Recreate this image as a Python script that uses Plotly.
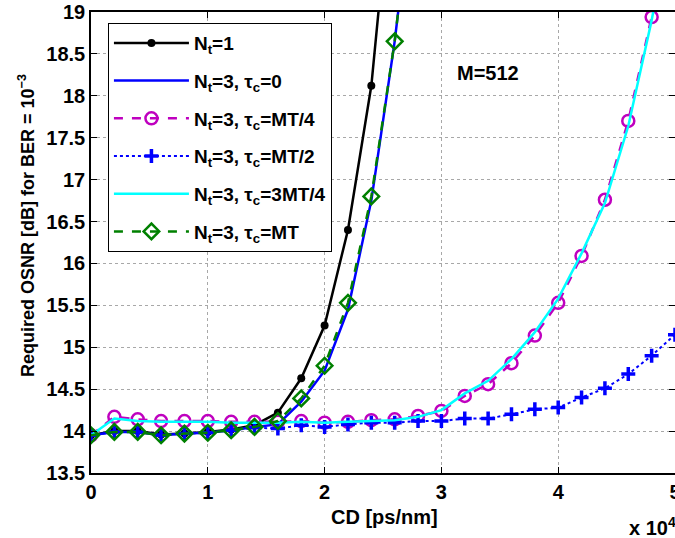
import plotly.graph_objects as go

cd = [0, 2000, 4000, 6000, 8000, 10000, 12000, 14000, 16000, 18000, 20000, 22000, 24000,
      26000, 28000, 30000, 32000, 34000, 36000, 38000, 40000, 42000, 44000, 46000, 48000, 50000]

cd_nt1 = cd[:14]
osnr_nt1 = [13.95, 14.0, 14.0, 13.96, 13.97, 13.99, 14.02, 14.07, 14.22, 14.63, 15.26, 16.4, 18.12, 21.0]

cd_tc0 = cd[:15]
osnr_tc0 = [13.95, 13.99, 13.99, 13.95, 13.97, 13.98, 14.01, 14.05, 14.08, 14.35, 14.72, 15.45, 16.75, 18.65, 21.0]

osnr_mt4 = [13.95, 14.17, 14.14, 14.12, 14.12, 14.12, 14.11, 14.11, 14.11, 14.12, 14.10, 14.11, 14.13,
            14.14, 14.18, 14.24, 14.42, 14.56, 14.81, 15.14, 15.53, 16.09, 16.76, 17.70, 18.94, 20.5]

osnr_mt2 = [13.95, 13.99, 13.99, 13.95, 13.97, 13.98, 14.01, 14.04, 14.03, 14.07, 14.05, 14.08, 14.10,
            14.10, 14.12, 14.12, 14.15, 14.15, 14.20, 14.26, 14.28, 14.40, 14.51, 14.68, 14.90, 15.15]

osnr_3mt4 = [13.95, 14.15, 14.12, 14.11, 14.11, 14.11, 14.10, 14.10, 14.10, 14.11, 14.10, 14.11, 14.12,
             14.13, 14.17, 14.25, 14.45, 14.60, 14.86, 15.18, 15.58, 16.12, 16.72, 17.64, 18.90, 20.4]

cd_mt = cd[:15]
osnr_mt = [13.95, 13.99, 13.99, 13.95, 13.97, 13.98, 14.01, 14.05, 14.12, 14.39, 14.78, 15.53, 16.80, 18.65, 21.0]

x_tickvals = [0, 10000, 20000, 30000, 40000, 50000]
x_ticktext = ["0", "1", "2", "3", "4", "5"]
y_tickvals = [13.5, 14, 14.5, 15, 15.5, 16, 16.5, 17, 17.5, 18, 18.5, 19]
y_ticktext = ["13.5", "14", "14.5", "15", "15.5", "16", "16.5", "17", "17.5", "18", "18.5", "19"]

FONT = "Liberation Sans, Arial, sans-serif"
FS = 20


def b(s):
    return "<b>" + s + "</b>"


fig = go.Figure()
fig.add_trace(go.Scatter(x=cd_nt1, y=osnr_nt1, mode="lines+markers", name=b("N<sub>t</sub>=1"),
                         legendgroup="a",
                         line=dict(color="black", width=2.5),
                         marker=dict(symbol="circle", size=8, color="black")))
fig.add_trace(go.Scatter(x=cd_tc0, y=osnr_tc0, mode="lines", name=b("N<sub>t</sub>=3, τ<sub>c</sub>=0"),
                         legendgroup="b",
                         line=dict(color="#0000FF", width=2.5)))
fig.add_trace(go.Scatter(x=cd, y=osnr_mt4, mode="lines+markers", name=b("N<sub>t</sub>=3, τ<sub>c</sub>=MT/4"),
                         legendgroup="c",
                         line=dict(color="#BF00BF", width=2.5, dash="dash"),
                         marker=dict(symbol="circle-open", size=12, color="#BF00BF", line=dict(width=2.5))))
fig.add_trace(go.Scatter(x=cd, y=osnr_mt2, mode="lines+markers", name=b("N<sub>t</sub>=3, τ<sub>c</sub>=MT/2"),
                         legendgroup="d",
                         line=dict(color="#0000FF", width=2, dash="dot"),
                         marker=dict(symbol="cross-thin-open", size=10, color="#0000FF", line=dict(width=3.5, color="#0000FF"))))
fig.add_trace(go.Scatter(x=cd, y=osnr_3mt4, mode="lines", name=b("N<sub>t</sub>=3, τ<sub>c</sub>=3MT/4"),
                         legendgroup="e",
                         line=dict(color="#00FFFF", width=2.5)))
fig.add_trace(go.Scatter(x=cd_mt, y=osnr_mt, mode="lines+markers", name=b("N<sub>t</sub>=3, τ<sub>c</sub>=MT"),
                         legendgroup="f",
                         line=dict(color="#008000", width=2.5, dash="dash"),
                         marker=dict(symbol="diamond-open", size=12, color="#008000", line=dict(width=2.5))))

fig.add_annotation(x=34000, y=18.27, text=b("M=512"), showarrow=False,
                   font=dict(family=FONT, size=FS, color="black"))
fig.add_annotation(x=0.961, y=-0.115, xref="paper", yref="paper", text=b("x 10<sup>4</sup>"),
                   xanchor="center", yanchor="middle",
                   showarrow=False, font=dict(family=FONT, size=FS, color="black"))
fig.add_annotation(x=0.502, y=-0.0954, xref="paper", yref="paper", text=b("CD [ps/nm]"),
                   xanchor="center", yanchor="middle",
                   showarrow=False, font=dict(family=FONT, size=FS, color="black"))
fig.add_annotation(x=-0.1096, y=0.538, xref="paper", yref="paper",
                   text=b("Required OSNR [dB] for BER = 10<sup>−3</sup>"), textangle=-90,
                   xanchor="center", yanchor="middle",
                   showarrow=False, font=dict(family=FONT, size=18, color="black"))

axis_common = dict(showline=True, linecolor="black", linewidth=1.5, mirror="ticks",
                   ticks="inside", ticklen=6, tickcolor="black",
                   showgrid=True, gridcolor="#a8a8a8", griddash="dot", gridwidth=1,
                   zeroline=False, ticklabeloverflow="allow",
                   tickfont=dict(family=FONT, size=FS, color="black"))

fig.update_layout(
    width=675, height=538,
    margin=dict(l=91, r=0, t=12, b=65, autoexpand=False),
    plot_bgcolor="white", paper_bgcolor="white",
    font=dict(family=FONT, color="black"),
    xaxis=dict(range=[0, 50000], tickvals=x_tickvals, ticktext=[b(t) for t in x_ticktext],
               **axis_common),
    yaxis=dict(range=[13.5, 19], tickvals=y_tickvals, ticktext=[b(t) for t in y_ticktext],
               **axis_common),
    legend=dict(x=0.029, y=0.976, xanchor="left", yanchor="top",
                bgcolor="white", bordercolor="black", borderwidth=1,
                font=dict(family=FONT, size=19, color="black"),
                itemwidth=75, tracegroupgap=10),
    showlegend=True,
)

fig.write_html("out.html", config={"displayModeBar": False},
               post_script="document.body.style.margin='0';document.body.style.overflow='hidden';")
